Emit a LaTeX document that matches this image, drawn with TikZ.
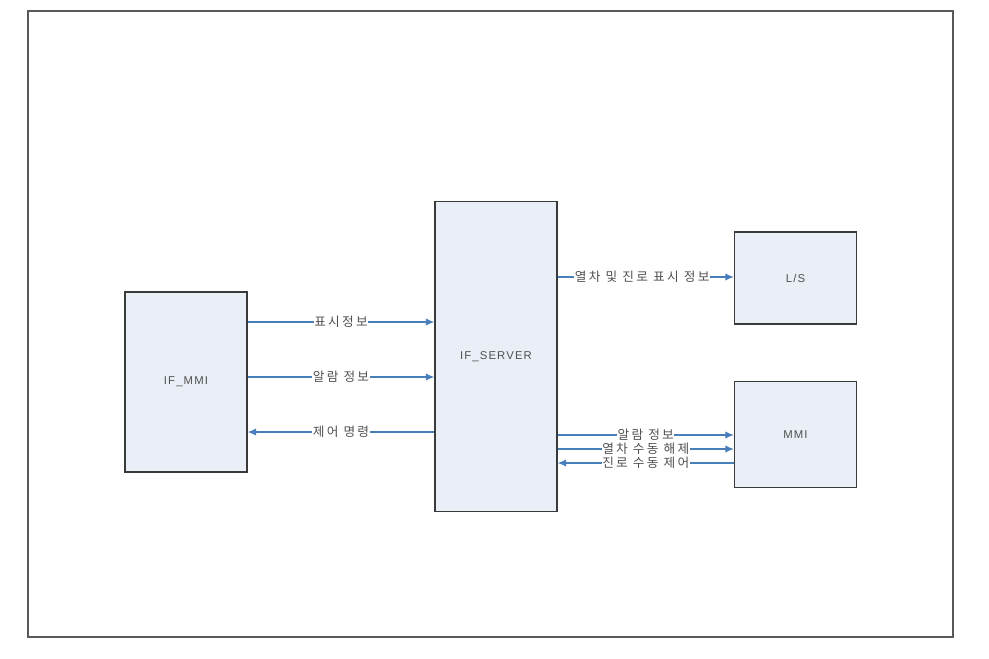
\documentclass[tikz,border=0pt]{standalone}
\usepackage{fontspec}
\setmainfont[LetterSpace=10]{Liberation Sans}
\newfontfamily\kr[LetterSpace=18]{Noto Sans CJK KR}
\usetikzlibrary{arrows.meta}

\definecolor{boxfill}{HTML}{E9EEF7}
\definecolor{boxline}{HTML}{3A3A3A}
\definecolor{flowblue}{HTML}{4A7EBB}
\definecolor{labelgray}{HTML}{505050}

\begin{document}
\begin{tikzpicture}[x=0.75pt, y=-0.75pt,
    block/.style={draw=boxline, line width=0.8pt, fill=boxfill, minimum width=91.5pt, font=\fontsize{8.5}{10}\selectfont, text=labelgray},
    flow/.style={draw=flowblue, line width=1pt, -{Latex[length=6.5pt, width=5.5pt]}},
    tag/.style={fill=white, inner sep=0.5pt, text height=0.78em, text depth=0.08em, font=\kr\fontsize{9.5}{10}\selectfont, text=labelgray}]

  \useasboundingbox (0, 0) rectangle (989, 658);

  \draw[draw=black!65, line width=1.1pt] (28, 11) rectangle (953, 637);

  \node (if-mmi) at (186, 382) [block, minimum height=135pt] {IF\_MMI};

  \node (if-server) at (496, 356.5) [block, minimum height=233pt] {IF\_SERVER};

  \node (ls) at (795.5, 278) [block, minimum height=69pt] {L/S};

  \node (mmi) at (795.5, 434.5) [block, minimum height=79pt] {MMI};

  \draw[flow] (if-mmi.east |- 0, 322) -- node[tag] {표시정보} (if-server.west |- 0, 322);

  \draw[flow] (if-mmi.east |- 0, 377) -- node[tag] {알람 정보} (if-server.west |- 0, 377);

  \draw[flow] (if-server.west |- 0, 432) -- node[tag] {제어 명령} (if-mmi.east |- 0, 432);

  \draw[flow] (if-server.east |- 0, 277) -- node[tag, pos=0.48] {열차 및 진로 표시 정보} (ls.west |- 0, 277);

  \draw[flow] (if-server.east |- 0, 435) -- node[tag, inner sep=0.2pt] {알람 정보} (mmi.west |- 0, 435);

  \draw[flow] (if-server.east |- 0, 449) -- node[tag, inner sep=0.2pt] {열차 수동 해제} (mmi.west |- 0, 449);

  \draw[flow] (mmi.west |- 0, 463) -- node[tag, inner sep=0.2pt] {진로 수동 제어} (if-server.east |- 0, 463);

\end{tikzpicture}
\end{document}
